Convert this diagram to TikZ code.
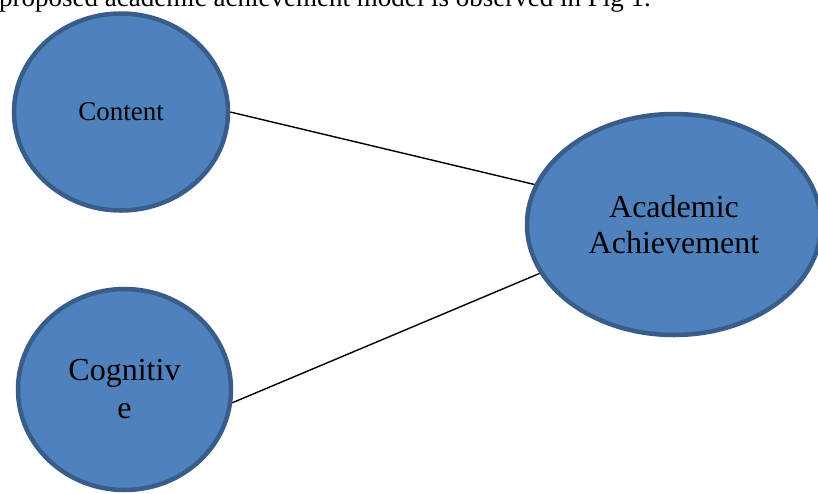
\documentclass[tikz,border=0pt]{standalone}
\usepackage{fontspec}
\setmainfont{Liberation Serif}
\usetikzlibrary{shapes.geometric}

\definecolor{factorfill}{HTML}{4F81BD}
\definecolor{factorline}{HTML}{385D8A}

\begin{document}
\begin{tikzpicture}[x=1pt,y=-1pt,
    factor/.style={ellipse, draw=factorline, fill=factorfill, line width=4.5pt,
        inner sep=0pt, align=center},
    link/.style={draw=black, line width=1.4pt}]

    % page frame
    \useasboundingbox (0,0) rectangle (818,493);
    \clip (0,0) rectangle (818,493);

    % running text cut by the top edge
    \node[anchor=base west, inner sep=0pt, font=\fontsize{27}{30}\selectfont]
        (caption) at (-1,6) {proposed academic achievement model is observed in Fig 1.};

    % first factor
    \node[factor, minimum width=214pt, minimum height=197pt,
        font=\fontsize{27}{32}\selectfont] (content) at (121,112) {Content};

    % second factor
    \node[factor, minimum width=213pt, minimum height=201pt,
        font=\fontsize{32}{38}\selectfont] (cognitive) at (124.5,389.5) {Cognitiv\\e};

    % outcome
    \node[factor, minimum width=294pt, minimum height=221pt,
        font=\fontsize{32}{36}\selectfont] (achieve) at (674,224.5) {Academic\\Achievement};

    % links
    \draw[link] (content.east) -- (achieve.164);
    \draw[link] (cognitive.-7) -- (achieve.200);

\end{tikzpicture}
\end{document}
